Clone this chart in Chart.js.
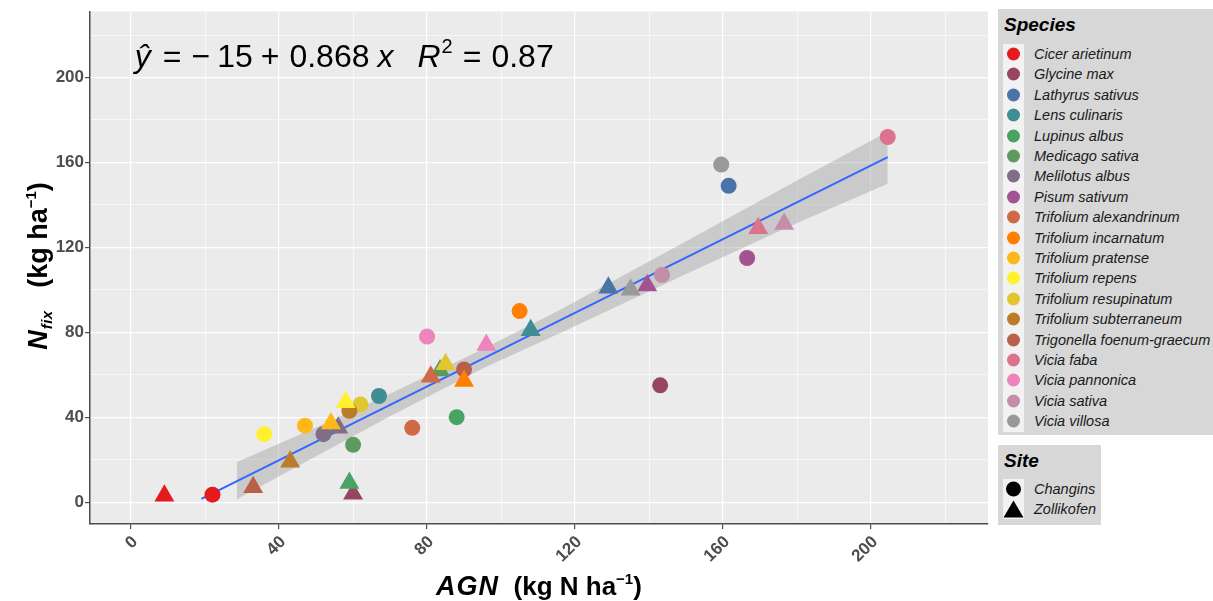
<!DOCTYPE html>
<html>
<head>
<meta charset="utf-8">
<title>Nfix vs AGN</title>
<script src="https://cdn.jsdelivr.net/npm/chart.js@4.4.1/dist/chart.umd.min.js"></script>
<style>
    body { margin: 0; background: #fff; }
    #wrap { position: relative; width: 1213px; height: 601px; overflow: hidden; font-family: "Liberation Sans", Arial, sans-serif; }
    #chart { position: absolute; left: 0; top: 0; }
    .axis-title { position: absolute; font-weight: bold; font-size: 26px; color: #000; white-space: nowrap; text-align: center; line-height: 34px; }
    .axis-title i { font-size: 27px; letter-spacing: 1px; }
    .axis-title sup { font-size: 15px; vertical-align: 11px; }
    .axis-title sub { vertical-align: -5px; }
    .axis-title sub i { font-size: 15px; letter-spacing: 0.5px; }
    #xtitle { left: 90px; width: 898px; top: 562px; }
    #ytitle { left: -169px; top: 249px; width: 400px; height: 34px; transform: rotate(-90deg); font-size: 27px; }
    .legend { position: absolute; background: #D7D7D7; }
    .legend .title { position: absolute; left: 6px; top: 5px; font: italic bold 19px "Liberation Sans", Arial, sans-serif; color: #000; }
    .legend .strip { position: absolute; left: 5px; width: 21px; background: #F2F2F2; }
    .legend .row { position: absolute; left: 5px; height: 20.4px; display: flex; align-items: center; }
    .legend .row svg { display: block; }
    .legend .row span { margin-left: 10px; font: italic 14.5px "Liberation Sans", Arial, sans-serif; color: #1a1a1a; white-space: nowrap; }
</style>
</head>
<body>
<div id="wrap">
    <canvas id="chart" width="1213" height="601"></canvas>
    <div id="xtitle" class="axis-title"><i>AGN</i>&nbsp;&nbsp;(kg N ha<sup>&minus;1</sup>)</div>
    <div id="ytitle" class="axis-title"><i>N</i><sub><i>fix</i></sub>&nbsp;&nbsp;&nbsp;(kg ha<sup>&minus;1</sup>)</div>
    <div id="species" class="legend" style="left:998px; top:9px; width:215px; height:426px;">
        <div class="title">Species</div>
        <div class="strip" style="top:35px; height:388px;"></div>
    </div>
    <div id="site" class="legend" style="left:998px; top:445px; width:103px; height:80px;">
        <div class="title">Site</div>
        <div class="strip" style="top:34px; height:40px;"></div>
    </div>
</div>
<script>
// species and their colours
const species = [
    'Cicer arietinum', 'Glycine max', 'Lathyrus sativus', 'Lens culinaris', 'Lupinus albus',
    'Medicago sativa', 'Melilotus albus', 'Pisum sativum', 'Trifolium alexandrinum',
    'Trifolium incarnatum', 'Trifolium pratense', 'Trifolium repens', 'Trifolium resupinatum',
    'Trifolium subterraneum', 'Trigonella foenum-graecum', 'Vicia faba', 'Vicia pannonica',
    'Vicia sativa', 'Vicia villosa'
];
const speciesColors = [
    '#E41A1C', '#974661', '#4A73A7', '#3E8E93', '#48A462', '#5E995E', '#7F6E85', '#A35391',
    '#D16948', '#FF7F00', '#FFB817', '#FFF12D', '#E1C72F', '#BA7C2A', '#B8604A', '#DC738D',
    '#ED84BB', '#C38EAA', '#999999'
];
const sites = ['Changins', 'Zollikofen'];

// AGN (x) and Nfix (y) per species, one pair of arrays per site
const changinsAGN  = [22, 143, 161.5, 67, 88, 60, 52, 166.5, 76, 105, 47, 36, 62, 59, 90, 204.5, 80, 143.5, 159.5];
const changinsNfix = [3.5, 55, 149, 50, 40, 27, 32, 115, 35, 90, 36, 32, 46, 43, 62.5, 172, 78, 107, 159];
const zollikofenAGN  = [9, 60, 129, 108, 59, 83.5, 56, 139.5, 81, 90, 54, 58, 85, 43, 33, 169.5, 96, 176.5, 135];
const zollikofenNfix = [3, 4, 101, 81, 9, 62, 35, 102, 59, 57, 37, 47, 65, 19, 7, 129, 74, 131, 100];

// fitted line and its confidence band
const fitAGN  = [19, 204.5];
const fitNfix = [1.5, 162.5];
const bandAGN  = [28.6, 50, 70, 95, 116, 150, 180, 204.5];
const bandLow  = [1.3, 21.6, 40.5, 63, 79.7, 107.5, 131.5, 150];
const bandHigh = [18.9, 35.2, 51.1, 72, 90.6, 122.9, 151.5, 174.5];

const equation = { x: 1, y: 205 };

const FONT = '"Liberation Sans", Arial, sans-serif';

function toPoints(xs, ys) {
    return xs.map(function(x, i) { return { x: x, y: ys[i] }; });
}

// legend rows
const speciesBox = document.getElementById('species');
species.forEach(function(name, i) {
    const row = document.createElement('div');
    row.className = 'row';
    row.style.top = (34.8 + i * 20.4) + 'px';
    row.innerHTML = '<svg width="21" height="20"><circle cx="10.5" cy="10" r="6.5" fill="' + speciesColors[i] + '"/></svg><span>' + name + '</span>';
    speciesBox.appendChild(row);
});
const siteBox = document.getElementById('site');
const siteSymbols = [
    '<circle cx="10.5" cy="10" r="7.5" fill="#000"/>',
    '<polygon points="10.5,1.5 20.5,18.5 0.5,18.5" fill="#000"/>'
];
sites.forEach(function(name, i) {
    const row = document.createElement('div');
    row.className = 'row';
    row.style.top = (34 + i * 20) + 'px';
    row.innerHTML = '<svg width="21" height="20">' + siteSymbols[i] + '</svg><span>' + name + '</span>';
    siteBox.appendChild(row);
});

const panelBg = {
    id: 'panelBg',
    beforeDraw: function(chart) {
        const a = chart.chartArea;
        const ctx = chart.ctx;
        ctx.save();
        ctx.fillStyle = '#EBEBEB';
        ctx.fillRect(a.left, a.top, a.right - a.left, a.bottom - a.top);
        ctx.restore();
    }
};

// regression equation, drawn piece by piece
const equationLabel = {
    id: 'equationLabel',
    afterDraw: function(chart) {
        const ctx = chart.ctx;
        let x = chart.scales.x.getPixelForValue(equation.x);
        const y = chart.scales.y.getPixelForValue(equation.y);
        const parts = [
            { t: '\u0177', it: true, gap: 12 },
            { t: '=', gap: 10 },
            { t: '\u2212', gap: 7 },
            { t: '15', gap: 8 },
            { t: '+', gap: 10 },
            { t: '0.868', gap: 8 },
            { t: 'x', it: true, gap: 24 },
            { t: 'R', it: true, gap: 1 },
            { t: '2', sup: true, gap: 10 },
            { t: '=', gap: 10 },
            { t: '0.87', gap: 0 }
        ];
        ctx.save();
        ctx.fillStyle = '#000';
        ctx.textBaseline = 'alphabetic';
        ctx.textAlign = 'left';
        parts.forEach(function(p) {
            ctx.font = (p.it ? 'italic ' : '') + (p.sup ? '20px ' : '32px ') + FONT;
            ctx.fillText(p.t, x, p.sup ? y - 14 : y);
            x += ctx.measureText(p.t).width + p.gap;
        });
        ctx.restore();
    }
};

function gridWidth(c) {
    return c.tick && c.tick.value % 40 === 0 ? 1.2 : 0.6;
}
function tickMarkColor(c) {
    return c.tick && c.tick.value % 40 === 0 ? '#4D4D4D' : 'rgba(0,0,0,0)';
}
function majorLabel(v) {
    return v % 40 === 0 ? v : '';
}

const ctx = document.getElementById('chart').getContext('2d');
new Chart(ctx, {
    type: 'scatter',
    data: {
        datasets: [
            {
                label: 'band low',
                data: toPoints(bandAGN, bandLow),
                showLine: true,
                borderColor: 'rgba(0,0,0,0)',
                borderWidth: 0,
                pointRadius: 0,
                fill: false,
                order: 5
            },
            {
                label: 'band high',
                data: toPoints(bandAGN, bandHigh),
                showLine: true,
                borderColor: 'rgba(0,0,0,0)',
                borderWidth: 0,
                pointRadius: 0,
                backgroundColor: 'rgba(153,153,153,0.4)',
                fill: '-1',
                order: 4
            },
            {
                label: 'fit',
                data: toPoints(fitAGN, fitNfix),
                showLine: true,
                borderColor: '#3366FF',
                borderWidth: 2,
                pointRadius: 0,
                fill: false,
                order: 3
            },
            {
                label: sites[0],
                data: toPoints(changinsAGN, changinsNfix),
                pointStyle: 'circle',
                pointRadius: 8,
                pointHoverRadius: 8,
                pointBackgroundColor: speciesColors,
                pointBorderWidth: 0,
                order: 2
            },
            {
                label: sites[1],
                data: toPoints(zollikofenAGN, zollikofenNfix),
                pointStyle: 'triangle',
                pointRadius: 11.5,
                pointHoverRadius: 11.5,
                pointBackgroundColor: speciesColors,
                pointBorderWidth: 0,
                order: 1
            }
        ]
    },
    options: {
        responsive: false,
        animation: false,
        events: [],
        layout: { padding: { left: 0, right: 225, top: 8, bottom: 0 } },
        plugins: {
            legend: { display: false },
            tooltip: { enabled: false }
        },
        scales: {
            x: {
                type: 'linear',
                min: -11.1,
                max: 231.6,
                afterFit: function(s) { s.height = 77; },
                ticks: {
                    stepSize: 20,
                    includeBounds: false,
                    autoSkip: false,
                    minRotation: 45,
                    maxRotation: 45,
                    padding: 3,
                    labelOffset: 4,
                    color: '#4D4D4D',
                    font: { family: FONT, size: 17, weight: 'bold' },
                    callback: majorLabel
                },
                grid: { color: '#FFFFFF', lineWidth: gridWidth, tickLength: 5, tickColor: tickMarkColor, tickWidth: 1.2 },
                border: { display: true, color: '#4D4D4D', width: 1.5 }
            },
            y: {
                type: 'linear',
                min: -10.3,
                max: 231.1,
                afterFit: function(s) { s.width = 90; },
                ticks: {
                    stepSize: 20,
                    includeBounds: false,
                    padding: 1,
                    color: '#4D4D4D',
                    font: { family: FONT, size: 17, weight: 'bold' },
                    callback: majorLabel
                },
                grid: { color: '#FFFFFF', lineWidth: gridWidth, tickLength: 5, tickColor: tickMarkColor, tickWidth: 1.2 },
                border: { display: true, color: '#4D4D4D', width: 1.5 }
            }
        }
    },
    plugins: [panelBg, equationLabel]
});
</script>
</body>
</html>
